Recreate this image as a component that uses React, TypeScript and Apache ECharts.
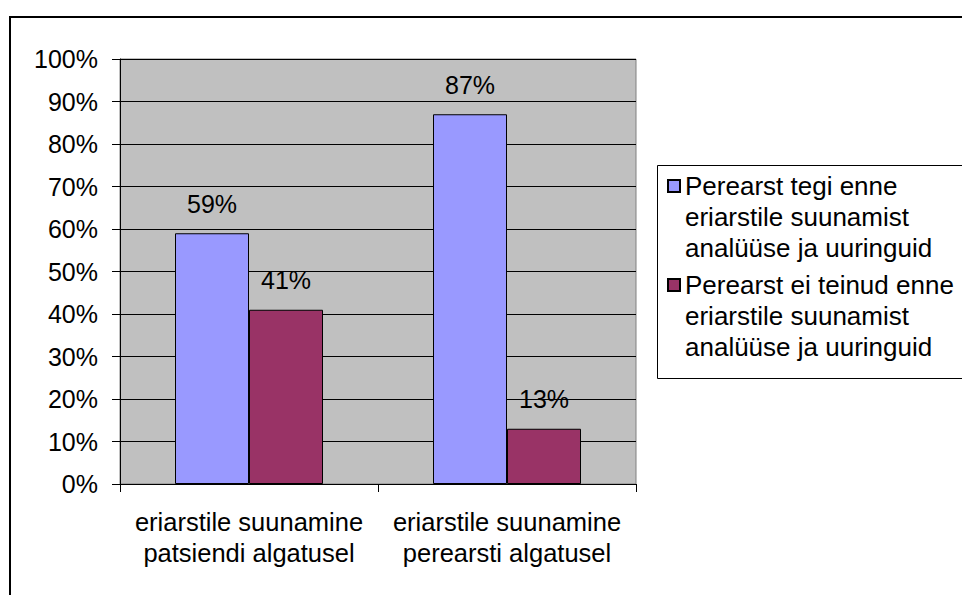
import React, { useEffect, useRef } from "react";
import * as echarts from "echarts";

const categories = ["eriarstile suunamine\npatsiendi algatusel", "eriarstile suunamine\nperearsti algatusel"];
const seriesNames = [
  "Perearst tegi enne\neriarstile suunamist\nanalüüse ja uuringuid",
  "Perearst ei teinud enne\neriarstile suunamist\nanalüüse ja uuringuid",
];
const didTests = [59, 87];
const didNotTest = [41, 13];
const colors = ["#9999ff", "#993366"];

const FONT = 'Arial, "Liberation Sans", sans-serif';

export default function App() {
  const ref = useRef<HTMLDivElement>(null);
  useEffect(() => {
    if (!ref.current) return;
    const chart = echarts.init(ref.current, null, { renderer: "svg" });
    const labelCfg = {
      show: true,
      position: "top",
      distance: 17,
      formatter: "{c}%",
      fontSize: 25,
      fontFamily: FONT,
      color: "#000",
    };
    const legendText = {
      fontSize: 26,
      fontFamily: FONT,
      color: "#000",
      lineHeight: 31,
    };
    const legendBase = {
      left: 667,
      orient: "vertical",
      padding: 0,
      itemWidth: 12,
      itemHeight: 12,
      itemGap: 5,
      icon: "rect",
      selectedMode: false,
      textStyle: legendText,
      formatter: (name: string) => "\n\n" + name,
    };
    chart.setOption({
      animation: false,
      backgroundColor: "#fff",
      textStyle: { fontFamily: FONT },
      grid: {
        left: 120,
        top: 59,
        width: 516,
        height: 425,
        show: true,
        backgroundColor: "#c0c0c0",
        borderColor: "#808080",
        borderWidth: 1,
        containLabel: false,
      },
      legend: [
        { ...legendBase, data: [seriesNames[0]], top: 108.5 },
        { ...legendBase, data: [seriesNames[1]], top: 207.5 },
      ],
      graphic: [
        {
          type: "rect",
          z: -10,
          silent: true,
          shape: { x: 10, y: 17, width: 1000, height: 700 },
          style: { fill: "none", stroke: "#000", lineWidth: 2 },
        },
        {
          type: "rect",
          z: -10,
          silent: true,
          shape: { x: 657.5, y: 165.5, width: 320, height: 213 },
          style: { fill: "none", stroke: "#000", lineWidth: 1 },
        },
      ],
      xAxis: {
        type: "category",
        data: categories,
        axisLine: { show: true, lineStyle: { color: "#000", width: 1 } },
        axisTick: { show: true, length: 8, alignWithLabel: false, lineStyle: { color: "#000" } },
        axisLabel: {
          fontSize: 25.5,
          lineHeight: 31,
          margin: 22,
          color: "#000",
          fontFamily: FONT,
          interval: 0,
        },
        splitLine: { show: false },
      },
      yAxis: {
        type: "value",
        min: 0,
        max: 100,
        interval: 10,
        axisLine: { show: true, lineStyle: { color: "#000", width: 1 } },
        axisTick: { show: true, length: 8, lineStyle: { color: "#000" } },
        axisLabel: {
          formatter: "{value}%",
          fontSize: 25,
          margin: 22,
          color: "#000",
          fontFamily: FONT,
        },
        splitLine: { show: true, lineStyle: { color: "#000", width: 1 } },
      },
      series: [
        {
          name: seriesNames[0],
          type: "bar",
          data: didTests,
          barWidth: 74,
          barGap: "0%",
          itemStyle: { color: colors[0], borderColor: "#000", borderWidth: 1 },
          label: labelCfg,
        },
        {
          name: seriesNames[1],
          type: "bar",
          data: didNotTest,
          barWidth: 74,
          barGap: "0%",
          itemStyle: { color: colors[1], borderColor: "#000", borderWidth: 1 },
          label: labelCfg,
        },
      ],
    });
    return () => chart.dispose();
  }, []);
  return (
    <div
      ref={ref}
      style={{ position: "fixed", left: 0, top: 0, width: 962, height: 595 }}
    />
  );
}
